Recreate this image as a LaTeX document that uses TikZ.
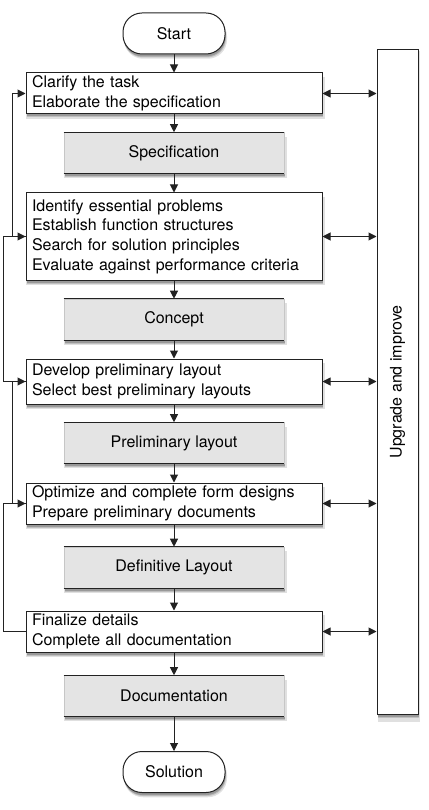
\documentclass[tikz,border=0pt]{standalone}
\usepackage{fontspec}
\setmainfont{TeX Gyre Heros}
\usetikzlibrary{shadows,arrows.meta}
\definecolor{ln}{HTML}{222222}
\definecolor{gfill}{HTML}{E4E4E4}
\begin{document}
\begin{tikzpicture}[x=1pt,y=-1pt,
  font=\fontsize{16}{19.7}\selectfont,
  shd/.style={drop shadow={shadow xshift=1.5pt,shadow yshift=-4.5pt,opacity=0.12,fill=black,shadow scale=1.01},
              drop shadow={shadow xshift=1pt,shadow yshift=-3.5pt,opacity=0.15,fill=black},
              drop shadow={shadow xshift=0.5pt,shadow yshift=-2.5pt,opacity=0.2,fill=black}},
  term/.style={draw=ln,line width=1pt,fill=white,rounded corners=19pt,minimum width=102pt,minimum height=41pt,inner sep=0pt,shd},
  stepbox/.style={draw=ln,line width=1pt,fill=white,text width=284pt,align=left,inner xsep=6pt,inner ysep=0pt,minimum width=296pt,shd},
  resbox/.style={draw=gray!45,line width=0.6pt,fill=gfill,minimum width=220pt,minimum height=41pt,inner sep=0pt,shd},
  arr/.style={draw=ln,line width=1pt,-{Triangle[length=8pt,width=8pt]}},
  dbl/.style={draw=ln,line width=1pt,{Triangle[length=8pt,width=8pt]}-{Triangle[length=8pt,width=8pt]}},
  fb/.style={draw=ln,line width=1pt}
]
\useasboundingbox (0,0) rectangle (428,810);

\node[term] (start) at (174,33.5) {Start};
\node[stepbox,minimum height=41pt] (b1) at (174,93.5) {Clarify the task\\Elaborate the specification};
\node[resbox] (s1) at (174,153) {Specification};
\node[stepbox,minimum height=87pt] (b2) at (174,236.5) {Identify essential problems\\Establish function structures\\Search for solution principles\\Evaluate against performance criteria};
\node[resbox] (s2) at (174,319.5) {Concept};
\node[stepbox,minimum height=45pt] (b3) at (174,381.5) {Develop preliminary layout\\Select best preliminary layouts};
\node[resbox] (s3) at (174,443) {Preliminary layout};
\node[stepbox,minimum height=41pt] (b4) at (174,503.5) {Optimize and complete form designs\\Prepare preliminary documents};
\node[resbox] (s4) at (174,567.5) {Definitive Layout};
\node[stepbox,minimum height=41pt] (b5) at (174,631.5) {Finalize details\\Complete all documentation};
\node[resbox] (s5) at (174,696) {Documentation};
\node[term] (sol) at (174,772) {Solution};

\node[draw=ln,line width=1pt,fill=white,minimum width=41pt,minimum height=664pt,inner sep=0pt,shd] (up) at (397.5,382) {};
\node[rotate=90] (uptxt) at (up.center) {Upgrade and improve};

% darker top and bottom edges of the result boxes
\foreach \n in {s1,s2,s3,s4,s5}{
  \draw[ln,line width=1pt] (\n.north west) -- (\n.north east);
  \draw[ln,line width=1pt] (\n.south west) -- (\n.south east);
}

% main flow
\draw[arr] (start) -- (b1);
\draw[arr] (b1) -- (s1);
\draw[arr] (s1) -- (b2);
\draw[arr] (b2) -- (s2);
\draw[arr] (s2) -- (b3);
\draw[arr] (b3) -- (s3);
\draw[arr] (s3) -- (b4);
\draw[arr] (b4) -- (s4);
\draw[arr] (s4) -- (b5);
\draw[arr] (b5) -- (s5);
\draw[arr] (s5) -- (sol);

% links to upgrade box
\foreach \n in {b1,b2,b3,b4,b5}{
  \draw[dbl] (\n.east) -- (\n.east -| up.west);
}

% feedback loops
\coordinate (xa) at (12,0);
\coordinate (xb) at (3,0);
\draw[fb] (b2.west) -- (b2.west -| xa);
\draw[arr] (b2.west -| xa) -- (b1.west -| xa) -- (b1.west);
\draw[fb] (b3.west) -- (b3.west -| xb);
\draw[arr] (b3.west -| xb) -- (b2.west -| xb) -- (b2.west);
\draw[fb] (b4.west) -- (b4.west -| xa);
\draw[arr] (b4.west -| xa) -- (b3.west -| xa) -- (b3.west);
\draw[fb] (b5.west) -- (b5.west -| xb);
\draw[arr] (b5.west -| xb) -- (b4.west -| xb) -- (b4.west);
\end{tikzpicture}
\end{document}
